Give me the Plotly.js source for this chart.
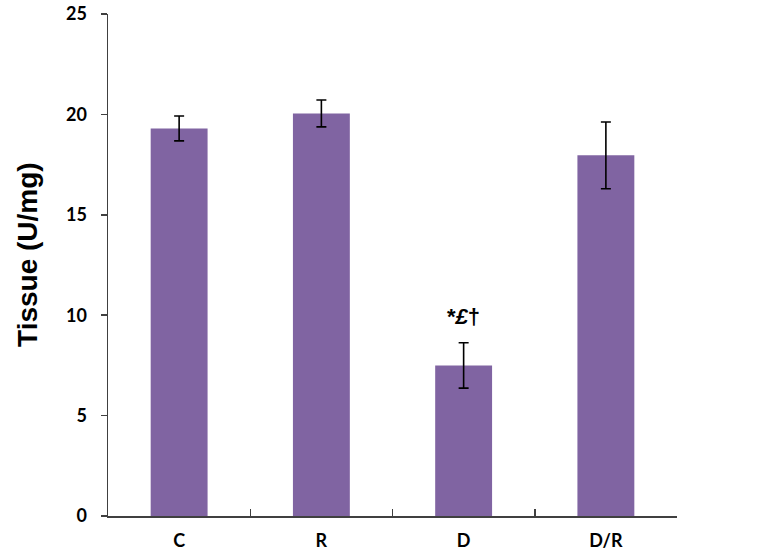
<!DOCTYPE html>
<html>
<head>
<meta charset="utf-8">
<script src="https://cdn.plot.ly/plotly-3.0.1.min.js"></script>
<style>html,body{margin:0;padding:0;background:#fff;}#chart{width:771px;height:555px;}</style>
</head>
<body>
<div id="chart"></div>
<script>
const categories = ["C", "R", "D", "D/R"];
const values = [19.3, 20.05, 7.5, 17.96];
const errors = [0.62, 0.67, 1.13, 1.66];
const annotationText = "*<i>£</i>†";
const annotationIndex = 2;
const yTicks = [0, 5, 10, 15, 20, 25];
const yTitle = "Tissue (U/mg)";

const trace = {
  type: "bar",
  x: categories,
  y: values,
  width: 0.4,
  marker: {color: "#8064A2"},
  error_y: {type: "data", array: errors, visible: true, color: "#000000", thickness: 1.6, width: 5},
  hoverinfo: "none"
};

const layout = {
  width: 771, height: 555,
  margin: {l: 108, r: 94, t: 14, b: 39},
  paper_bgcolor: "#fff", plot_bgcolor: "#fff",
  showlegend: false,
  font: {family: "Lato, 'Open Sans', sans-serif", color: "#000"},
  xaxis: {
    type: "category",
    range: [-0.5, 3.5],
    showline: true, linecolor: "#404040", linewidth: 1.5,
    ticks: "inside", tickson: "boundaries", ticklen: 7, tickcolor: "#404040", tickwidth: 1.5,
    tickfont: {size: 18, family: "Lato, sans-serif", weight: "bold"},
    ticklabelstandoff: 8,
    automargin: false,
    showgrid: false, zeroline: false, fixedrange: true
  },
  yaxis: {
    range: [0, 25],
    tickvals: yTicks,
    showline: true, linecolor: "#404040", linewidth: 1.5,
    ticks: "outside", ticklen: 6, tickcolor: "#404040", tickwidth: 1.5,
    tickfont: {size: 18, family: "Lato, sans-serif", weight: "bold"},
    ticklabelstandoff: 10,
    automargin: false,
    showgrid: false, zeroline: false, fixedrange: true
  },
  annotations: [{
    x: categories[annotationIndex], y: values[annotationIndex] + errors[annotationIndex],
    xref: "x", yref: "y", yanchor: "bottom", yshift: 12,
    text: annotationText, showarrow: false,
    font: {size: 22, family: "'Liberation Sans', Arial, sans-serif", weight: "bold", color: "#000"}
  }, {
    xref: "paper", yref: "paper", x: 0, y: 0.52, xanchor: "center", yanchor: "middle",
    xshift: -80, textangle: -90, showarrow: false,
    text: yTitle,
    font: {size: 28, family: "'Liberation Sans', Arial, sans-serif", weight: "bold", color: "#000"}
  }]
};

Plotly.newPlot("chart", [trace], layout, {displayModeBar: false, staticPlot: true});
</script>
</body>
</html>
